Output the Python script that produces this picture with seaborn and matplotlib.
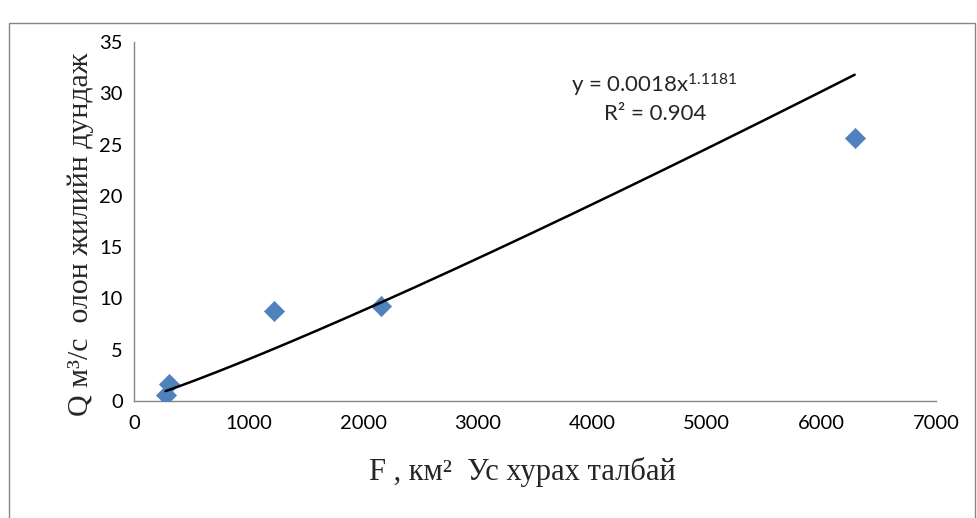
import numpy as np
import pandas as pd
import matplotlib
matplotlib.use("Agg")
import matplotlib.pyplot as plt
import seaborn as sns
from matplotlib.patches import Rectangle

# Data
area_km2 = [275, 305, 1225, 2160, 6290]
discharge = [0.6, 1.7, 8.8, 9.3, 25.6]
trend_a = 0.0018
trend_b = 1.1181
r_squared = 0.904
x_ticks = [0, 1000, 2000, 3000, 4000, 5000, 6000, 7000]
y_ticks = [0, 5, 10, 15, 20, 25, 30, 35]

sns.set_style("white")
plt.rcParams["font.family"] = ["Lato", "DejaVu Sans"]
plt.rcParams["mathtext.default"] = "regular"

df = pd.DataFrame({"F": area_km2, "Q": discharge})

fig = plt.figure(figsize=(9.78, 5.18), dpi=100)
ax = fig.add_axes([134 / 978, 1 - 401 / 518, (936 - 134) / 978, (401 - 42) / 518])

# outer chart frame
fig.patches.append(Rectangle((9 / 978, -0.02), (975 - 9) / 978, 1 - 23 / 518 + 0.02,
                             transform=fig.transFigure, fill=False,
                             edgecolor="#868686", linewidth=1.0, zorder=0))

sns.scatterplot(data=df, x="F", y="Q", marker="D", s=105, color="#4F81BD",
                edgecolor="#4F81BD", linewidth=0.5, ax=ax, zorder=3)

xt = np.linspace(min(area_km2), max(area_km2), 200)
sns.lineplot(x=xt, y=trend_a * xt ** trend_b, color="black", linewidth=1.8, ax=ax, zorder=4)

ax.set_xlim(0, 7000)
ax.set_ylim(0, 35)
ax.set_xticks(x_ticks)
ax.set_yticks(y_ticks)
ax.tick_params(axis="both", labelsize=14.5, colors="#868686", labelcolor="black",
               length=6, width=1, direction="out", pad=4)
ax.tick_params(axis="y", pad=2)
for s in ["top", "right"]:
    ax.spines[s].set_visible(False)
for s in ["left", "bottom"]:
    ax.spines[s].set_color("#868686")
    ax.spines[s].set_linewidth(1.0)

serif = ["Liberation Serif", "DejaVu Serif"]
ax.set_xlabel("F , км²  Ус хурах талбай", fontsize=22, family=serif)
ax.set_ylabel("Q м³/с  олон жилийн дундаж", fontsize=21.5, family=serif)
ax.xaxis.set_label_coords(0.484, -0.155)
ax.yaxis.set_label_coords(-0.05, 0.465)

ax.text(654 / 978, 1 - 85 / 518, f"y = {trend_a}x$^{{{trend_b}}}$", transform=fig.transFigure,
        ha="center", va="center", fontsize=16)
ax.text(655 / 978, 1 - 114 / 518, f"R² = {r_squared}", transform=fig.transFigure,
        ha="center", va="center", fontsize=16)

fig.savefig("out.png", dpi=100, facecolor="white")
